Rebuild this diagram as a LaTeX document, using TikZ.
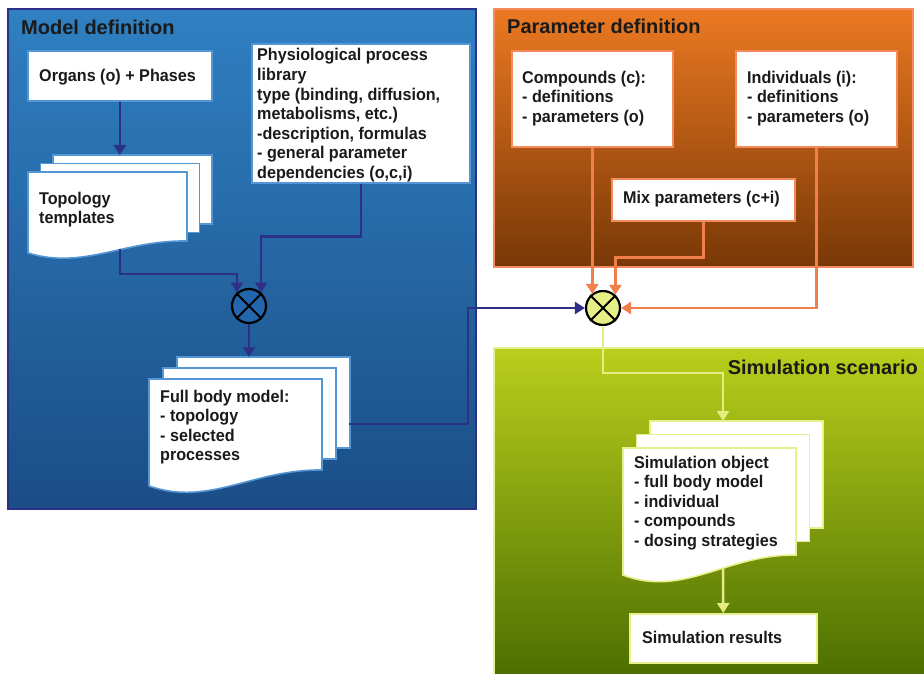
\documentclass[tikz,border=0pt]{standalone}
\usepackage{fontspec}
\setmainfont{Liberation Sans}
\newfontfamily\bodyfont{Liberation Sans}[FakeStretch=0.95]
\usetikzlibrary{arrows.meta}
\definecolor{navy}{HTML}{2E3088}
\definecolor{bluetop}{HTML}{2F80C2}
\definecolor{bluemid}{HTML}{1373B7}
\definecolor{bluebot}{HTML}{1B4D86}
\definecolor{bluesheet}{HTML}{5597D4}
\definecolor{blueball}{HTML}{2266AE}
\definecolor{orgtop}{HTML}{EC7922}
\definecolor{orgmid}{HTML}{BE5C07}
\definecolor{orgbot}{HTML}{783806}
\definecolor{orgline}{HTML}{F27E4C}
\definecolor{orgbox}{HTML}{F58A5C}
\definecolor{grntop}{HTML}{B9CF1C}
\definecolor{grnmid}{HTML}{95B500}
\definecolor{grnbot}{HTML}{4A6C00}
\definecolor{grnline}{HTML}{E4EC82}
\definecolor{grnbox}{HTML}{E8F08E}
\definecolor{ballyel}{HTML}{E6EE88}
\definecolor{ink}{HTML}{1A1A1A}

% #1 x1, #2 y1, #3 x2, #4 right bottom y, #5 left bottom y, #6 wave control y, #7 dx, #8 dy, #9 style
\newcommand{\dstack}[9]{%
 \filldraw[#9] (#1+2*#7,#2-2*#8) rectangle (#3+2*#7,#4-2*#8);
 \filldraw[#9] (#1+#7,#2-#8) rectangle (#3+#7,#4-#8);
 \filldraw[#9] (#1,#2) -- (#3,#2) -- (#3,#4) .. controls ({#1+0.6*(#3-#1)},#4-1) and ({#1+0.35*(#3-#1)},#6) .. (#1,#5) -- cycle;
}

\begin{document}
\begin{tikzpicture}[x=1pt,y=-1pt,
  txt/.style={font=\bodyfont\fontsize{17}{19.6}\selectfont\bfseries, align=left, inner sep=0pt, anchor=base west, text=ink},
  ttl/.style={font=\fontsize{20}{24}\selectfont\bfseries, inner sep=0pt, text=ink},
  bbox/.style={draw=bluesheet, fill=white, line width=1.6pt, anchor=north west, inner sep=0pt},
  obox/.style={draw=orgbox, fill=white, line width=1.6pt, anchor=north west, inner sep=0pt},
  gbox/.style={draw=grnbox, fill=white, line width=1.6pt, anchor=north west, inner sep=0pt},
  bsheet/.style={draw=bluesheet, fill=white, line width=1.6pt},
  gsheet/.style={draw=grnbox, fill=white, line width=1.6pt},
  tip/.style={-{Triangle[length=10pt,width=12pt]}},
  bline/.style={draw=navy, line width=2.5pt, tip},
  oline/.style={draw=orgline, line width=2.5pt, tip},
  gline/.style={draw=grnline, line width=2.5pt, tip},
  ball/.style={circle, draw=black, line width=2.2pt, minimum size=34pt, inner sep=0pt}]
\useasboundingbox (0,0) rectangle (924,674);

% panels
\draw[draw=navy, line width=2pt, top color=bluetop, middle color=bluemid, bottom color=bluebot] (8,9) rectangle (476,509);
\draw[draw=orgbox, line width=2pt, top color=orgtop, middle color=orgmid, bottom color=orgbot] (494,9) rectangle (913,267);
\draw[draw=grnbox, line width=2pt, top color=grntop, middle color=grnmid, bottom color=grnbot] (494,348) rectangle (932,684);

\node[ttl, anchor=base west] (t1) at (21,35) {Model definition};
\node[ttl, anchor=base west] (t2) at (507,34) {Parameter definition};
\node[ttl, anchor=base east] (t3) at (918,374) {Simulation scenario};

% boxes
\node[bbox, minimum width=184pt, minimum height=50pt] (organs) at (27,50) {};
\node[bbox, minimum width=218pt, minimum height=139pt] (physio) at (251,43) {};
\node[obox, minimum width=161pt, minimum height=96pt] (comp) at (511,50) {};
\node[obox, minimum width=161pt, minimum height=96pt] (indiv) at (735,50) {};
\node[obox, minimum width=183pt, minimum height=42pt] (mix) at (611,178) {};
\node[gbox, minimum width=187pt, minimum height=49pt] (results) at (629,613) {};

% document stacks
\dstack{28}{172}{187}{241}{253}{270}{12.5}{8.5}{bsheet}
\dstack{149}{379}{322}{470}{486}{507}{14}{11}{bsheet}
\dstack{623}{448}{796}{555}{575}{598}{13.5}{13.5}{gsheet}

% texts (anchor = baseline of the last line)
\node[txt] (organs-t) at (39,82) {Organs (o) + Phases};
\node[txt] (physio-t) at (257,178.6) {Physiological process\\library\\type (binding, diffusion,\\metabolisms, etc.)\\-description, formulas\\- general parameter\\dependencies (o,c,i)};
\node[txt] (topo-t) at (39,223.6) {Topology\\templates};
\node[txt] (full-t) at (160,460.8) {Full body model:\\- topology\\- selected\\processes};
\node[txt] (comp-t) at (522,122.5) {Compounds (c):\\- definitions\\- parameters (o)};
\node[txt] (indiv-t) at (747,122.5) {Individuals (i):\\- definitions\\- parameters (o)};
\node[txt] (mix-t) at (623,204) {Mix parameters (c+i)};
\node[txt] (sim-t) at (634,546.4) {Simulation object\\- full body model\\- individual\\- compounds\\- dosing strategies};
\node[txt] (res-t) at (642,643) {Simulation results};

% combination nodes
\node[ball, fill=blueball] (c1) at (249,306) {};
\draw[line width=2pt] (c1.45) -- (c1.225) (c1.135) -- (c1.315);
\node[ball, fill=ballyel] (c2) at (603,308) {};
\draw[line width=2pt] (c2.45) -- (c2.225) (c2.135) -- (c2.315);

% coordinates
\coordinate (topotop) at (120,155);
\coordinate (topobot) at (120,249);
\coordinate (fbtop) at (249,357);
\coordinate (fbright) at (349,424);
\coordinate (simtop) at (723,421);
\coordinate (simbot) at (723,568);
\coordinate (j1) at (0,274);
\coordinate (j3) at (468,0);
\coordinate (j4) at (0,373);

% blue connectors
\draw[bline] (organs.south) -- (organs.south |- topotop);
\draw[bline] (topobot) -- (topobot |- j1) -| (c1.132);
\draw[bline] (physio.south) -- ++(0,53) -| (c1.48);
\draw[bline] (c1.south) -- (c1.south |- fbtop);
\draw[bline] (fbright) -| (j3 |- c2) -- (c2.west);

% orange connectors
\draw[oline] (comp.south) -- (comp.south |- c2.129);
\draw[oline] (mix.south) -- ++(0,36) -| (c2.47);
\draw[oline] (indiv.south) |- (c2.east);

% yellow connectors
\draw[gline] (c2.south) -- (c2.south |- j4) -| (simtop);
\draw[gline] (simbot) -- (results.north);
\end{tikzpicture}
\end{document}
